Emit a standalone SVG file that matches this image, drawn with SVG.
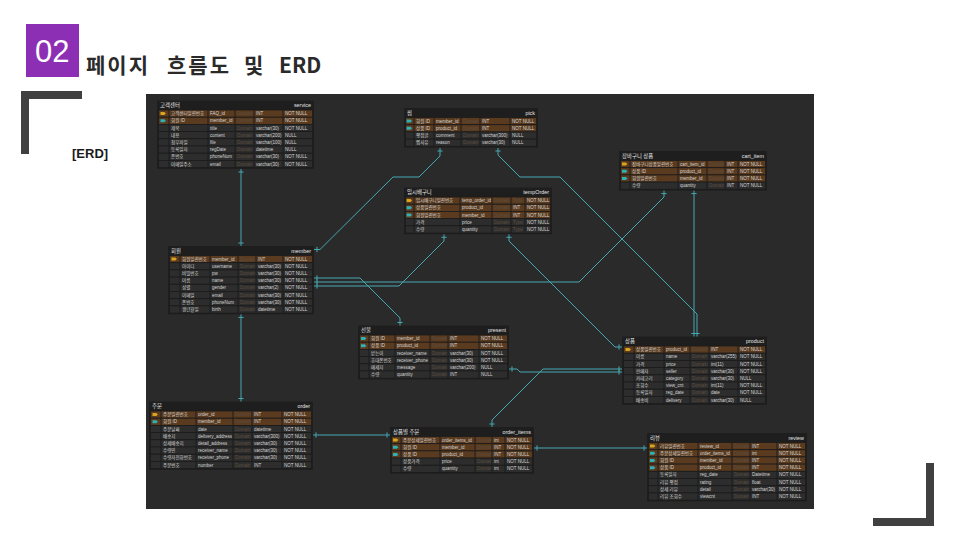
<svg xmlns="http://www.w3.org/2000/svg" xmlns:xlink="http://www.w3.org/1999/xlink" width="960" height="540" viewBox="0 0 960 540">
<style>
text{font-family:"Liberation Sans","Noto Sans CJK KR",sans-serif;font-size:4.5px;fill:#d6d6d6}
.hd{font-size:5.4px;fill:#e6e6e6}
.he{font-size:5.4px;fill:#e6e6e6;text-anchor:end}
.d{fill:#5d4d40}
.pk{fill:#5a3b1f;stroke:#1c1c1c;stroke-width:0.8}
.n{fill:#2d2d2d;stroke:#1c1c1c;stroke-width:0.8}
.fr{fill:#1e1e1e}
.sep{stroke:#1c1c1c;stroke-width:0.9;fill:none}
.cn path{fill:none;stroke:#45a8b2;stroke-width:1;marker-start:url(#tk);marker-end:url(#tk)}
</style>
<defs>
<marker id="tk" markerUnits="userSpaceOnUse" viewBox="-5 -4 8 8" refX="0" refY="0" markerWidth="8" markerHeight="8" orient="auto-start-reverse">
<path d="M-3,-2.6V2.6" stroke="#45a8b2" stroke-width="1" fill="none"/>
</marker>
<path id="pkI" d="M-3.2,-1.5h3.8l1.6,1.5l-1.6,1.5h-3.8z" fill="#d9a520"/>
<path id="fkI" d="M-3.2,-1.5h3.8l1.6,1.5l-1.6,1.5h-3.8z" fill="#2fb0b4"/>
</defs>
<rect width="960" height="540" fill="#ffffff"/>
<g id="title">
<rect x="26" y="24" width="53" height="53" fill="#8d2fb5"/>
<text x="35" y="62" style="font-size:31px;fill:#ffffff">02</text>
<text y="73" style="font-family:'Noto Sans CJK KR',sans-serif;font-size:21px;font-weight:bold;fill:#2a2a2a"><tspan x="86" style="letter-spacing:2px">페이지</tspan> <tspan x="167" style="letter-spacing:2px">흐름도</tspan> <tspan x="244">및</tspan> <tspan x="279">ERD</tspan></text>
<text x="72" y="158" style="font-size:13px;font-weight:bold;fill:#1a1a1a">[ERD]</text>
<path d="M21,91H82V99H29V154H21Z" fill="#404040"/>
<path d="M934,463V526H873V518H926V463Z" fill="#404040"/>
</g>
<rect x="146" y="94" width="668" height="415" fill="#2a2a2a"/>

<g id="t-service" transform="translate(157,100.5)">
<rect class="fr" width="157" height="68.4"/>
<text class="hd" x="3" y="6.8">고객센터</text><text class="he" x="154" y="6.8">service</text>
<g transform="translate(0,9.5)"><rect class="pk" x="1.5" width="154" height="7.2"/><use href="#pkI" x="6.7" y="3.6"/><text x="14" y="5.2">고객센터일련번호</text><text x="53" y="5.2">FAQ_id</text><text class="d" x="80" y="5.2">Domain</text><text x="99" y="5.2">INT</text><text x="128" y="5.2">NOT NULL</text></g>
<g transform="translate(0,16.7)"><rect class="pk" x="1.5" width="154" height="7.2"/><use href="#fkI" x="6.7" y="3.6"/><text x="14" y="5.2">회원 ID</text><text x="53" y="5.2">member_id</text><text class="d" x="80" y="5.2">Domain</text><text x="99" y="5.2">INT</text><text x="128" y="5.2">NOT NULL</text></g>
<g transform="translate(0,23.9)"><rect class="n" x="1.5" width="154" height="7.2"/><text x="14" y="5.2">제목</text><text x="53" y="5.2">title</text><text class="d" x="80" y="5.2">Domain</text><text x="99" y="5.2">varchar(30)</text><text x="128" y="5.2">NOT NULL</text></g>
<g transform="translate(0,31.1)"><rect class="n" x="1.5" width="154" height="7.2"/><text x="14" y="5.2">내용</text><text x="53" y="5.2">content</text><text class="d" x="80" y="5.2">Domain</text><text x="99" y="5.2">varchar(200)</text><text x="128" y="5.2">NULL</text></g>
<g transform="translate(0,38.3)"><rect class="n" x="1.5" width="154" height="7.2"/><text x="14" y="5.2">첨부파일</text><text x="53" y="5.2">file</text><text class="d" x="80" y="5.2">Domain</text><text x="99" y="5.2">varchar(100)</text><text x="128" y="5.2">NULL</text></g>
<g transform="translate(0,45.5)"><rect class="n" x="1.5" width="154" height="7.2"/><text x="14" y="5.2">등록일자</text><text x="53" y="5.2">regDate</text><text class="d" x="80" y="5.2">Domain</text><text x="99" y="5.2">datetime</text><text x="128" y="5.2">NULL</text></g>
<g transform="translate(0,52.7)"><rect class="n" x="1.5" width="154" height="7.2"/><text x="14" y="5.2">폰번호</text><text x="53" y="5.2">phoneNum</text><text class="d" x="80" y="5.2">Domain</text><text x="99" y="5.2">varchar(30)</text><text x="128" y="5.2">NOT NULL</text></g>
<g transform="translate(0,59.9)"><rect class="n" x="1.5" width="154" height="7.2"/><text x="14" y="5.2">이메일주소</text><text x="53" y="5.2">email</text><text class="d" x="80" y="5.2">Domain</text><text x="99" y="5.2">varchar(30)</text><text x="128" y="5.2">NOT NULL</text></g>
<path class="sep" d="M12,9.5V67.1M51,9.5V67.1M78,9.5V67.1M97,9.5V67.1M126,9.5V67.1"/>
</g>

<g id="t-pick" transform="translate(404,108)">
<rect class="fr" width="134" height="39.6"/>
<text class="hd" x="3" y="6.8">찜</text><text class="he" x="131" y="6.8">pick</text>
<g transform="translate(0,9.5)"><rect class="pk" x="1.5" width="131" height="7.2"/><use href="#fkI" x="5.8" y="3.6"/><text x="12" y="5.2">회원 ID</text><text x="32" y="5.2">member_id</text><text class="d" x="59" y="5.2">Domain</text><text x="78" y="5.2">INT</text><text x="108" y="5.2">NOT NULL</text></g>
<g transform="translate(0,16.7)"><rect class="pk" x="1.5" width="131" height="7.2"/><use href="#fkI" x="5.8" y="3.6"/><text x="12" y="5.2">상품 ID</text><text x="32" y="5.2">product_id</text><text class="d" x="59" y="5.2">Domain</text><text x="78" y="5.2">INT</text><text x="108" y="5.2">NOT NULL</text></g>
<g transform="translate(0,23.9)"><rect class="n" x="1.5" width="131" height="7.2"/><text x="12" y="5.2">평점글</text><text x="32" y="5.2">comment</text><text class="d" x="59" y="5.2">Domain</text><text x="78" y="5.2">varchar(300)</text><text x="108" y="5.2">NULL</text></g>
<g transform="translate(0,31.1)"><rect class="n" x="1.5" width="131" height="7.2"/><text x="12" y="5.2">찜사유</text><text x="32" y="5.2">reason</text><text class="d" x="59" y="5.2">Domain</text><text x="78" y="5.2">varchar(30)</text><text x="108" y="5.2">NULL</text></g>
<path class="sep" d="M10,9.5V38.3M30,9.5V38.3M57,9.5V38.3M76,9.5V38.3M106,9.5V38.3"/>
</g>

<g id="t-cart_item" transform="translate(619,151)">
<rect class="fr" width="148" height="39.6"/>
<text class="hd" x="3" y="6.8">장바구니 상품</text><text class="he" x="145" y="6.8">cart_item</text>
<g transform="translate(0,9.5)"><rect class="pk" x="1.5" width="145" height="7.2"/><use href="#pkI" x="6.2" y="3.6"/><text x="13" y="5.2">장바구니상품일련번호</text><text x="61" y="5.2">cart_item_id</text><text class="d" x="90" y="5.2">Domain</text><text x="108" y="5.2">INT</text><text x="121" y="5.2">NOT NULL</text></g>
<g transform="translate(0,16.7)"><rect class="pk" x="1.5" width="145" height="7.2"/><use href="#fkI" x="6.2" y="3.6"/><text x="13" y="5.2">상품 ID</text><text x="61" y="5.2">product_id</text><text class="d" x="90" y="5.2">Domain</text><text x="108" y="5.2">INT</text><text x="121" y="5.2">NOT NULL</text></g>
<g transform="translate(0,23.9)"><rect class="pk" x="1.5" width="145" height="7.2"/><use href="#fkI" x="6.2" y="3.6"/><text x="13" y="5.2">회원일련번호</text><text x="61" y="5.2">member_id</text><text class="d" x="90" y="5.2">Domain</text><text x="108" y="5.2">INT</text><text x="121" y="5.2">NOT NULL</text></g>
<g transform="translate(0,31.1)"><rect class="n" x="1.5" width="145" height="7.2"/><text x="13" y="5.2">수량</text><text x="61" y="5.2">quantity</text><text class="d" x="90" y="5.2">Domain</text><text x="108" y="5.2">INT</text><text x="121" y="5.2">NOT NULL</text></g>
<path class="sep" d="M11,9.5V38.3M59,9.5V38.3M88,9.5V38.3M106,9.5V38.3M119,9.5V38.3"/>
</g>

<g id="t-tempOrder" transform="translate(404,187.5)">
<rect class="fr" width="148" height="46.8"/>
<text class="hd" x="3" y="6.8">임시배구니</text><text class="he" x="145" y="6.8">tempOrder</text>
<g transform="translate(0,9.5)"><rect class="pk" x="1.5" width="145" height="7.2"/><use href="#pkI" x="5.8" y="3.6"/><text x="12" y="5.2">임시배구니일련번호</text><text x="58" y="5.2">temp_order_id</text><text class="d" x="90" y="5.2">Domain</text><text class="d" x="109" y="5.2">Type</text><text x="123" y="5.2">NOT NULL</text></g>
<g transform="translate(0,16.7)"><rect class="pk" x="1.5" width="145" height="7.2"/><use href="#fkI" x="5.8" y="3.6"/><text x="12" y="5.2">상품일련번호</text><text x="58" y="5.2">product_id</text><text class="d" x="90" y="5.2">Domain</text><text x="109" y="5.2">INT</text><text x="123" y="5.2">NOT NULL</text></g>
<g transform="translate(0,23.9)"><rect class="pk" x="1.5" width="145" height="7.2"/><use href="#fkI" x="5.8" y="3.6"/><text x="12" y="5.2">회원일련번호</text><text x="58" y="5.2">member_id</text><text class="d" x="90" y="5.2">Domain</text><text x="109" y="5.2">INT</text><text x="123" y="5.2">NOT NULL</text></g>
<g transform="translate(0,31.1)"><rect class="n" x="1.5" width="145" height="7.2"/><text x="12" y="5.2">가격</text><text x="58" y="5.2">price</text><text class="d" x="90" y="5.2">Domain</text><text class="d" x="109" y="5.2">Type</text><text x="123" y="5.2">NOT NULL</text></g>
<g transform="translate(0,38.3)"><rect class="n" x="1.5" width="145" height="7.2"/><text x="12" y="5.2">수량</text><text x="58" y="5.2">quantity</text><text class="d" x="90" y="5.2">Domain</text><text class="d" x="109" y="5.2">Type</text><text x="123" y="5.2">NOT NULL</text></g>
<path class="sep" d="M10,9.5V45.5M56,9.5V45.5M88,9.5V45.5M107,9.5V45.5M121,9.5V45.5"/>
</g>

<g id="t-member" transform="translate(168,246)">
<rect class="fr" width="146" height="68.4"/>
<text class="hd" x="3" y="6.8">회원</text><text class="he" x="143" y="6.8">member</text>
<g transform="translate(0,9.5)"><rect class="pk" x="1.5" width="143" height="7.2"/><use href="#pkI" x="6.7" y="3.6"/><text x="14" y="5.2">회원일련번호</text><text x="44" y="5.2">member_id</text><text class="d" x="72" y="5.2">Domain</text><text x="90" y="5.2">INT</text><text x="117" y="5.2">NOT NULL</text></g>
<g transform="translate(0,16.7)"><rect class="n" x="1.5" width="143" height="7.2"/><text x="14" y="5.2">아이디</text><text x="44" y="5.2">username</text><text class="d" x="72" y="5.2">Domain</text><text x="90" y="5.2">varchar(30)</text><text x="117" y="5.2">NOT NULL</text></g>
<g transform="translate(0,23.9)"><rect class="n" x="1.5" width="143" height="7.2"/><text x="14" y="5.2">비밀번호</text><text x="44" y="5.2">pw</text><text class="d" x="72" y="5.2">Domain</text><text x="90" y="5.2">varchar(30)</text><text x="117" y="5.2">NOT NULL</text></g>
<g transform="translate(0,31.1)"><rect class="n" x="1.5" width="143" height="7.2"/><text x="14" y="5.2">이름</text><text x="44" y="5.2">name</text><text class="d" x="72" y="5.2">Domain</text><text x="90" y="5.2">varchar(30)</text><text x="117" y="5.2">NOT NULL</text></g>
<g transform="translate(0,38.3)"><rect class="n" x="1.5" width="143" height="7.2"/><text x="14" y="5.2">성별</text><text x="44" y="5.2">gender</text><text class="d" x="72" y="5.2">Domain</text><text x="90" y="5.2">varchar(2)</text><text x="117" y="5.2">NOT NULL</text></g>
<g transform="translate(0,45.5)"><rect class="n" x="1.5" width="143" height="7.2"/><text x="14" y="5.2">이메일</text><text x="44" y="5.2">email</text><text class="d" x="72" y="5.2">Domain</text><text x="90" y="5.2">varchar(30)</text><text x="117" y="5.2">NOT NULL</text></g>
<g transform="translate(0,52.7)"><rect class="n" x="1.5" width="143" height="7.2"/><text x="14" y="5.2">폰번호</text><text x="44" y="5.2">phoneNum</text><text class="d" x="72" y="5.2">Domain</text><text x="90" y="5.2">varchar(30)</text><text x="117" y="5.2">NOT NULL</text></g>
<g transform="translate(0,59.9)"><rect class="n" x="1.5" width="143" height="7.2"/><text x="14" y="5.2">생년월일</text><text x="44" y="5.2">birth</text><text class="d" x="72" y="5.2">Domain</text><text x="90" y="5.2">datetime</text><text x="117" y="5.2">NOT NULL</text></g>
<path class="sep" d="M12,9.5V67.1M42,9.5V67.1M70,9.5V67.1M88,9.5V67.1M115,9.5V67.1"/>
</g>

<g id="t-present" transform="translate(358,325.5)">
<rect class="fr" width="151" height="54"/>
<text class="hd" x="3" y="6.8">선물</text><text class="he" x="148" y="6.8">present</text>
<g transform="translate(0,9.5)"><rect class="pk" x="1.5" width="148" height="7.2"/><use href="#fkI" x="6.2" y="3.6"/><text x="13" y="5.2">회원 ID</text><text x="39" y="5.2">member_id</text><text class="d" x="74" y="5.2">Domain</text><text x="92" y="5.2">INT</text><text x="123" y="5.2">NOT NULL</text></g>
<g transform="translate(0,16.7)"><rect class="pk" x="1.5" width="148" height="7.2"/><use href="#fkI" x="6.2" y="3.6"/><text x="13" y="5.2">상품 ID</text><text x="39" y="5.2">product_id</text><text class="d" x="74" y="5.2">Domain</text><text x="92" y="5.2">INT</text><text x="123" y="5.2">NOT NULL</text></g>
<g transform="translate(0,23.9)"><rect class="n" x="1.5" width="148" height="7.2"/><text x="13" y="5.2">받는이</text><text x="39" y="5.2">receiver_name</text><text class="d" x="74" y="5.2">Domain</text><text x="92" y="5.2">varchar(30)</text><text x="123" y="5.2">NOT NULL</text></g>
<g transform="translate(0,31.1)"><rect class="n" x="1.5" width="148" height="7.2"/><text x="13" y="5.2">휴대폰번호</text><text x="39" y="5.2">receiver_phone</text><text class="d" x="74" y="5.2">Domain</text><text x="92" y="5.2">varchar(30)</text><text x="123" y="5.2">NOT NULL</text></g>
<g transform="translate(0,38.3)"><rect class="n" x="1.5" width="148" height="7.2"/><text x="13" y="5.2">메세지</text><text x="39" y="5.2">message</text><text class="d" x="74" y="5.2">Domain</text><text x="92" y="5.2">varchar(200)</text><text x="123" y="5.2">NULL</text></g>
<g transform="translate(0,45.5)"><rect class="n" x="1.5" width="148" height="7.2"/><text x="13" y="5.2">수량</text><text x="39" y="5.2">quantity</text><text class="d" x="74" y="5.2">Domain</text><text x="92" y="5.2">INT</text><text x="123" y="5.2">NULL</text></g>
<path class="sep" d="M11,9.5V52.7M37,9.5V52.7M72,9.5V52.7M90,9.5V52.7M121,9.5V52.7"/>
</g>

<g id="t-product" transform="translate(622,336.5)">
<rect class="fr" width="145" height="68.4"/>
<text class="hd" x="3" y="6.8">상품</text><text class="he" x="142" y="6.8">product</text>
<g transform="translate(0,9.5)"><rect class="pk" x="1.5" width="142" height="7.2"/><use href="#pkI" x="6.7" y="3.6"/><text x="14" y="5.2">상품일련번호</text><text x="44" y="5.2">product_id</text><text class="d" x="70" y="5.2">Domain</text><text x="89" y="5.2">INT</text><text x="118" y="5.2">NOT NULL</text></g>
<g transform="translate(0,16.7)"><rect class="n" x="1.5" width="142" height="7.2"/><text x="14" y="5.2">이름</text><text x="44" y="5.2">name</text><text class="d" x="70" y="5.2">Domain</text><text x="89" y="5.2">varchar(255)</text><text x="118" y="5.2">NOT NULL</text></g>
<g transform="translate(0,23.9)"><rect class="n" x="1.5" width="142" height="7.2"/><text x="14" y="5.2">가격</text><text x="44" y="5.2">price</text><text class="d" x="70" y="5.2">Domain</text><text x="89" y="5.2">int(11)</text><text x="118" y="5.2">NOT NULL</text></g>
<g transform="translate(0,31.1)"><rect class="n" x="1.5" width="142" height="7.2"/><text x="14" y="5.2">판매자</text><text x="44" y="5.2">seller</text><text class="d" x="70" y="5.2">Domain</text><text x="89" y="5.2">varchar(30)</text><text x="118" y="5.2">NOT NULL</text></g>
<g transform="translate(0,38.3)"><rect class="n" x="1.5" width="142" height="7.2"/><text x="14" y="5.2">카테고리</text><text x="44" y="5.2">category</text><text class="d" x="70" y="5.2">Domain</text><text x="89" y="5.2">varchar(30)</text><text x="118" y="5.2">NULL</text></g>
<g transform="translate(0,45.5)"><rect class="n" x="1.5" width="142" height="7.2"/><text x="14" y="5.2">조회수</text><text x="44" y="5.2">view_cnt</text><text class="d" x="70" y="5.2">Domain</text><text x="89" y="5.2">int(11)</text><text x="118" y="5.2">NOT NULL</text></g>
<g transform="translate(0,52.7)"><rect class="n" x="1.5" width="142" height="7.2"/><text x="14" y="5.2">등록일자</text><text x="44" y="5.2">reg_date</text><text class="d" x="70" y="5.2">Domain</text><text x="89" y="5.2">date</text><text x="118" y="5.2">NOT NULL</text></g>
<g transform="translate(0,59.9)"><rect class="n" x="1.5" width="142" height="7.2"/><text x="14" y="5.2">배송비</text><text x="44" y="5.2">delivery</text><text class="d" x="70" y="5.2">Domain</text><text x="89" y="5.2">varchar(30)</text><text x="118" y="5.2">NULL</text></g>
<path class="sep" d="M12,9.5V67.1M42,9.5V67.1M68,9.5V67.1M87,9.5V67.1M116,9.5V67.1"/>
</g>

<g id="t-order" transform="translate(149,401.5)">
<rect class="fr" width="164" height="68.4"/>
<text class="hd" x="3" y="6.8">주문</text><text class="he" x="161" y="6.8">order</text>
<g transform="translate(0,9.5)"><rect class="pk" x="1.5" width="161" height="7.2"/><use href="#pkI" x="6.7" y="3.6"/><text x="14" y="5.2">주문일련번호</text><text x="49" y="5.2">order_id</text><text class="d" x="86" y="5.2">Domain</text><text x="105" y="5.2">INT</text><text x="135" y="5.2">NOT NULL</text></g>
<g transform="translate(0,16.7)"><rect class="pk" x="1.5" width="161" height="7.2"/><use href="#fkI" x="6.7" y="3.6"/><text x="14" y="5.2">회원 ID</text><text x="49" y="5.2">member_id</text><text class="d" x="86" y="5.2">Domain</text><text x="105" y="5.2">INT</text><text x="135" y="5.2">NOT NULL</text></g>
<g transform="translate(0,23.9)"><rect class="n" x="1.5" width="161" height="7.2"/><text x="14" y="5.2">주문날짜</text><text x="49" y="5.2">date</text><text class="d" x="86" y="5.2">Domain</text><text x="105" y="5.2">datetime</text><text x="135" y="5.2">NOT NULL</text></g>
<g transform="translate(0,31.1)"><rect class="n" x="1.5" width="161" height="7.2"/><text x="14" y="5.2">배송지</text><text x="49" y="5.2">delivery_address</text><text class="d" x="86" y="5.2">Domain</text><text x="105" y="5.2">varchar(300)</text><text x="135" y="5.2">NOT NULL</text></g>
<g transform="translate(0,38.3)"><rect class="n" x="1.5" width="161" height="7.2"/><text x="14" y="5.2">상세배송지</text><text x="49" y="5.2">detail_address</text><text class="d" x="86" y="5.2">Domain</text><text x="105" y="5.2">varchar(30)</text><text x="135" y="5.2">NOT NULL</text></g>
<g transform="translate(0,45.5)"><rect class="n" x="1.5" width="161" height="7.2"/><text x="14" y="5.2">수령인</text><text x="49" y="5.2">receiver_name</text><text class="d" x="86" y="5.2">Domain</text><text x="105" y="5.2">varchar(30)</text><text x="135" y="5.2">NOT NULL</text></g>
<g transform="translate(0,52.7)"><rect class="n" x="1.5" width="161" height="7.2"/><text x="14" y="5.2">수령자전화번호</text><text x="49" y="5.2">receiver_phone</text><text class="d" x="86" y="5.2">Domain</text><text x="105" y="5.2">varchar(30)</text><text x="135" y="5.2">NOT NULL</text></g>
<g transform="translate(0,59.9)"><rect class="n" x="1.5" width="161" height="7.2"/><text x="14" y="5.2">주문번호</text><text x="49" y="5.2">number</text><text class="d" x="86" y="5.2">Domain</text><text x="105" y="5.2">INT</text><text x="135" y="5.2">NOT NULL</text></g>
<path class="sep" d="M12,9.5V67.1M47,9.5V67.1M84,9.5V67.1M103,9.5V67.1M133,9.5V67.1"/>
</g>

<g id="t-order_items" transform="translate(390,427)">
<rect class="fr" width="144" height="46.8"/>
<text class="hd" x="3" y="6.8">상품별 주문</text><text class="he" x="141" y="6.8">order_items</text>
<g transform="translate(0,9.5)"><rect class="pk" x="1.5" width="141" height="7.2"/><use href="#pkI" x="6.2" y="3.6"/><text x="13" y="5.2">주문상세일련번호</text><text x="52" y="5.2">order_items_id</text><text class="d" x="87" y="5.2">Domain</text><text x="104" y="5.2">int</text><text x="117" y="5.2">NOT NULL</text></g>
<g transform="translate(0,16.7)"><rect class="pk" x="1.5" width="141" height="7.2"/><use href="#fkI" x="6.2" y="3.6"/><text x="13" y="5.2">회원 ID</text><text x="52" y="5.2">member_id</text><text class="d" x="87" y="5.2">Domain</text><text x="104" y="5.2">INT</text><text x="117" y="5.2">NOT NULL</text></g>
<g transform="translate(0,23.9)"><rect class="pk" x="1.5" width="141" height="7.2"/><use href="#fkI" x="6.2" y="3.6"/><text x="13" y="5.2">상품 ID</text><text x="52" y="5.2">product_id</text><text class="d" x="87" y="5.2">Domain</text><text x="104" y="5.2">INT</text><text x="117" y="5.2">NOT NULL</text></g>
<g transform="translate(0,31.1)"><rect class="n" x="1.5" width="141" height="7.2"/><text x="13" y="5.2">상품가격</text><text x="52" y="5.2">price</text><text class="d" x="87" y="5.2">Domain</text><text x="104" y="5.2">int</text><text x="117" y="5.2">NOT NULL</text></g>
<g transform="translate(0,38.3)"><rect class="n" x="1.5" width="141" height="7.2"/><text x="13" y="5.2">수량</text><text x="52" y="5.2">quantity</text><text class="d" x="87" y="5.2">Domain</text><text x="104" y="5.2">int</text><text x="117" y="5.2">NOT NULL</text></g>
<path class="sep" d="M11,9.5V45.5M50,9.5V45.5M85,9.5V45.5M102,9.5V45.5M115,9.5V45.5"/>
</g>

<g id="t-review" transform="translate(647,433)">
<rect class="fr" width="160" height="68.4"/>
<text class="hd" x="3" y="6.8">리뷰</text><text class="he" x="157" y="6.8">review</text>
<g transform="translate(0,9.5)"><rect class="pk" x="1.5" width="157" height="7.2"/><use href="#pkI" x="6.2" y="3.6"/><text x="13" y="5.2">리뷰일련번호</text><text x="53" y="5.2">review_id</text><text class="d" x="87" y="5.2">Domain</text><text x="105" y="5.2">INT</text><text x="132" y="5.2">NOT NULL</text></g>
<g transform="translate(0,16.7)"><rect class="pk" x="1.5" width="157" height="7.2"/><use href="#fkI" x="6.2" y="3.6"/><text x="13" y="5.2">주문상세일련번호</text><text x="53" y="5.2">order_items_id</text><text class="d" x="87" y="5.2">Domain</text><text x="105" y="5.2">int</text><text x="132" y="5.2">NOT NULL</text></g>
<g transform="translate(0,23.9)"><rect class="pk" x="1.5" width="157" height="7.2"/><use href="#fkI" x="6.2" y="3.6"/><text x="13" y="5.2">회원 ID</text><text x="53" y="5.2">member_id</text><text class="d" x="87" y="5.2">Domain</text><text x="105" y="5.2">INT</text><text x="132" y="5.2">NOT NULL</text></g>
<g transform="translate(0,31.1)"><rect class="pk" x="1.5" width="157" height="7.2"/><use href="#fkI" x="6.2" y="3.6"/><text x="13" y="5.2">상품 ID</text><text x="53" y="5.2">product_id</text><text class="d" x="87" y="5.2">Domain</text><text x="105" y="5.2">INT</text><text x="132" y="5.2">NOT NULL</text></g>
<g transform="translate(0,38.3)"><rect class="n" x="1.5" width="157" height="7.2"/><text x="13" y="5.2">등록일자</text><text x="53" y="5.2">reg_date</text><text class="d" x="87" y="5.2">Domain</text><text x="105" y="5.2">Datetime</text><text x="132" y="5.2">NOT NULL</text></g>
<g transform="translate(0,45.5)"><rect class="n" x="1.5" width="157" height="7.2"/><text x="13" y="5.2">리뷰 평점</text><text x="53" y="5.2">rating</text><text class="d" x="87" y="5.2">Domain</text><text x="105" y="5.2">float</text><text x="132" y="5.2">NOT NULL</text></g>
<g transform="translate(0,52.7)"><rect class="n" x="1.5" width="157" height="7.2"/><text x="13" y="5.2">상세 리뷰</text><text x="53" y="5.2">detail</text><text class="d" x="87" y="5.2">Domain</text><text x="105" y="5.2">varchar(30)</text><text x="132" y="5.2">NOT NULL</text></g>
<g transform="translate(0,59.9)"><rect class="n" x="1.5" width="157" height="7.2"/><text x="13" y="5.2">리뷰 조회수</text><text x="53" y="5.2">viewcnt</text><text class="d" x="87" y="5.2">Domain</text><text x="105" y="5.2">INT</text><text x="132" y="5.2">NOT NULL</text></g>
<path class="sep" d="M11,9.5V67.1M51,9.5V67.1M85,9.5V67.1M103,9.5V67.1M130,9.5V67.1"/>
</g>

<g id="connectors" class="cn">
<path d="M241,169V246"/>
<path d="M314,249.5H320L393,177H419L440,156V148"/>
<path d="M498,148V155L520,177H560L697,314V336.5"/>
<path d="M694,190.6V336.5"/>
<path d="M664,190.6V197L579,282H314"/>
<path d="M314,278H360L400,318V325.5"/>
<path d="M314,286H399L444,241V234.3"/>
<path d="M509,234.3V241L615,347H622"/>
<path d="M509,369H517L520,372H622"/>
<path d="M492,427V420L543,369H622"/>
<path d="M241,314.4V401.5"/>
<path d="M313,435H390"/>
<path d="M534,448H647"/>
</g>
</svg>
